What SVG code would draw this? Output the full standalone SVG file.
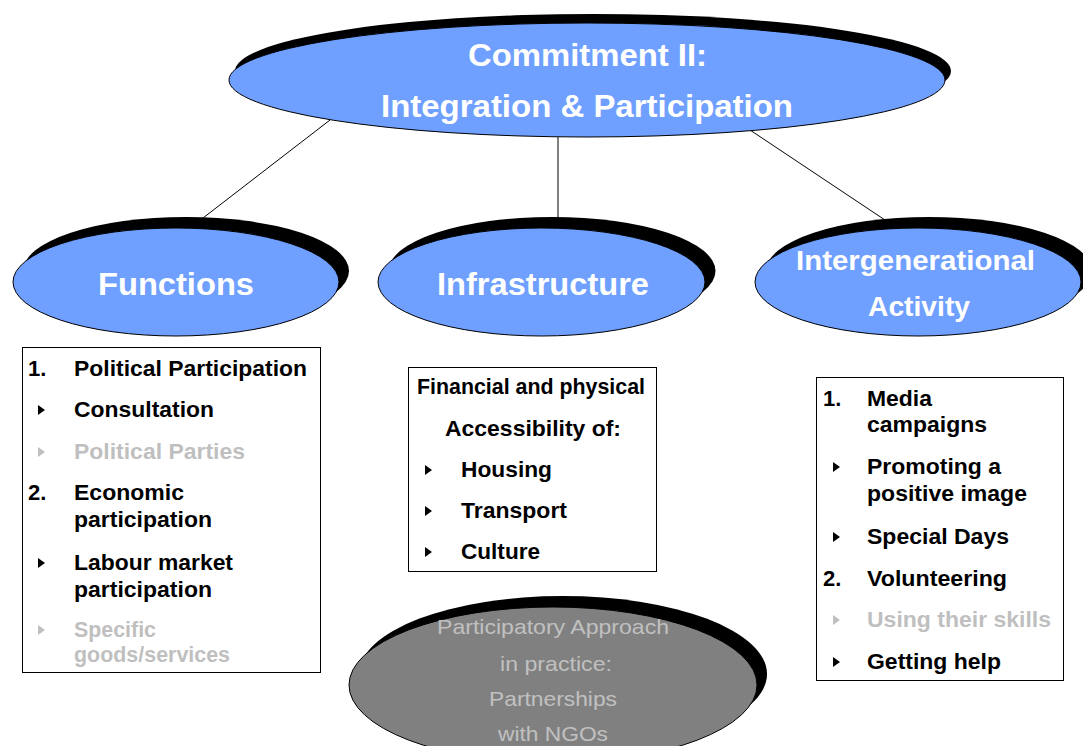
<svg xmlns="http://www.w3.org/2000/svg" width="1083" height="746" viewBox="0 0 1083 746">
<style>
.sh{fill:#000}
.bl{fill:#70A0FF;stroke:#000;stroke-width:1}
.gr{fill:#808080;stroke:#000;stroke-width:1}
.box{fill:#fff;stroke:#000;stroke-width:1}
.t{font-family:"Liberation Sans",Arial,sans-serif;font-weight:bold;fill:#fff;text-anchor:middle}
.i{font-family:"Liberation Sans",Arial,sans-serif;font-weight:bold;font-size:22px;fill:#000}
.g{fill:#BFBFBF}
.c{text-anchor:middle}
.b{fill:#000}
.bg{fill:#BFBFBF}
.n{font-family:"Liberation Sans",Arial,sans-serif;font-size:21px;fill:#C0C0C0;text-anchor:middle}
.ln{stroke:#000;stroke-width:1;fill:none}
</style>
<defs>
<path id="tri" d="M0,0 L7,5 L0,10 Z"/>
</defs>
<rect width="1083" height="746" fill="#fff"/>
<g id="connectors">
<line class="ln" x1="330" y1="120" x2="203" y2="218"/>
<line class="ln" x1="558" y1="137" x2="558" y2="218"/>
<line class="ln" x1="747" y1="128" x2="885" y2="220"/>
</g>
<g id="commitment">
<ellipse class="sh" cx="593" cy="71" rx="358" ry="57"/>
<ellipse class="bl" cx="587" cy="80" rx="358" ry="57"/>
<text class="t" x="587.5" y="66" font-size="32" textLength="239" lengthAdjust="spacingAndGlyphs">Commitment II:</text>
<text class="t" x="587" y="117" font-size="32" textLength="412" lengthAdjust="spacingAndGlyphs">Integration &amp; Participation</text>
</g>
<g id="functions">
<ellipse class="sh" cx="186" cy="271" rx="163" ry="54"/>
<ellipse class="bl" cx="176" cy="282" rx="163" ry="54"/>
<text class="t" x="176" y="295" font-size="31" textLength="156" lengthAdjust="spacingAndGlyphs">Functions</text>
</g>
<g id="infrastructure">
<ellipse class="sh" cx="552" cy="271" rx="163.5" ry="54"/>
<ellipse class="bl" cx="541.5" cy="282" rx="163.5" ry="54"/>
<text class="t" x="543" y="295" font-size="31" textLength="212" lengthAdjust="spacingAndGlyphs">Infrastructure</text>
</g>
<g id="intergenerational">
<ellipse class="sh" cx="929" cy="271" rx="163" ry="54"/>
<ellipse class="bl" cx="918" cy="282" rx="163" ry="54"/>
<text class="t" x="915.5" y="270" font-size="28" textLength="239" lengthAdjust="spacingAndGlyphs">Intergenerational</text>
<text class="t" x="919" y="316" font-size="28" textLength="102" lengthAdjust="spacingAndGlyphs">Activity</text>
</g>
<g id="functions-list">
<rect class="box" x="22.5" y="347.5" width="298" height="325"/>
<text class="i" x="28" y="376">1.</text>
<text class="i" x="74" y="376" textLength="233" lengthAdjust="spacingAndGlyphs">Political Participation</text>
<use href="#tri" class="b" x="38" y="405"/>
<text class="i" x="74" y="417" textLength="140" lengthAdjust="spacingAndGlyphs">Consultation</text>
<use href="#tri" class="bg" x="38" y="447"/>
<text class="i g" x="74" y="459" textLength="171" lengthAdjust="spacingAndGlyphs">Political Parties</text>
<text class="i" x="28" y="500">2.</text>
<text class="i" x="74" y="500" textLength="110" lengthAdjust="spacingAndGlyphs">Economic</text>
<text class="i" x="74" y="527" textLength="138" lengthAdjust="spacingAndGlyphs">participation</text>
<use href="#tri" class="b" x="38" y="558"/>
<text class="i" x="74" y="570" textLength="159" lengthAdjust="spacingAndGlyphs">Labour market</text>
<text class="i" x="74" y="597" textLength="138" lengthAdjust="spacingAndGlyphs">participation</text>
<use href="#tri" class="bg" x="38" y="625"/>
<text class="i g" x="74" y="637" font-size="20" textLength="82" lengthAdjust="spacingAndGlyphs">Specific</text>
<text class="i g" x="74" y="662" font-size="20" textLength="156" lengthAdjust="spacingAndGlyphs">goods/services</text>
</g>
<g id="infrastructure-list">
<rect class="box" x="408.5" y="367.5" width="248" height="204"/>
<text class="i c" x="531" y="394" font-size="20" textLength="228" lengthAdjust="spacingAndGlyphs">Financial and physical</text>
<text class="i c" x="533" y="436" textLength="176" lengthAdjust="spacingAndGlyphs">Accessibility of:</text>
<use href="#tri" class="b" x="425" y="465"/>
<text class="i" x="461" y="477" textLength="91" lengthAdjust="spacingAndGlyphs">Housing</text>
<use href="#tri" class="b" x="425" y="506"/>
<text class="i" x="461" y="518" textLength="106" lengthAdjust="spacingAndGlyphs">Transport</text>
<use href="#tri" class="b" x="425" y="547"/>
<text class="i" x="461" y="559" textLength="79" lengthAdjust="spacingAndGlyphs">Culture</text>
</g>
<g id="intergenerational-list">
<rect class="box" x="816.5" y="377.5" width="247" height="303"/>
<text class="i" x="823" y="406">1.</text>
<text class="i" x="867" y="406" textLength="65" lengthAdjust="spacingAndGlyphs">Media</text>
<text class="i" x="867" y="432" textLength="120" lengthAdjust="spacingAndGlyphs">campaigns</text>
<use href="#tri" class="b" x="833" y="462"/>
<text class="i" x="867" y="474" textLength="134" lengthAdjust="spacingAndGlyphs">Promoting a</text>
<text class="i" x="867" y="501" textLength="160" lengthAdjust="spacingAndGlyphs">positive image</text>
<use href="#tri" class="b" x="833" y="532"/>
<text class="i" x="867" y="544" textLength="142" lengthAdjust="spacingAndGlyphs">Special Days</text>
<text class="i" x="823" y="586">2.</text>
<text class="i" x="867" y="586" textLength="140" lengthAdjust="spacingAndGlyphs">Volunteering</text>
<use href="#tri" class="bg" x="833" y="615"/>
<text class="i g" x="867" y="627" textLength="184" lengthAdjust="spacingAndGlyphs">Using their skills</text>
<use href="#tri" class="b" x="833" y="657"/>
<text class="i" x="867" y="669" textLength="134" lengthAdjust="spacingAndGlyphs">Getting help</text>
</g>
<g id="participatory">
<ellipse class="sh" cx="563" cy="674" rx="204" ry="78"/>
<ellipse class="gr" cx="553" cy="685" rx="204" ry="78"/>
<text class="n" x="553" y="634" textLength="232" lengthAdjust="spacingAndGlyphs">Participatory Approach</text>
<text class="n" x="556" y="671" textLength="112" lengthAdjust="spacingAndGlyphs">in practice:</text>
<text class="n" x="553" y="706" textLength="128" lengthAdjust="spacingAndGlyphs">Partnerships</text>
<text class="n" x="553" y="741" textLength="110" lengthAdjust="spacingAndGlyphs">with NGOs</text>
</g>
</svg>
